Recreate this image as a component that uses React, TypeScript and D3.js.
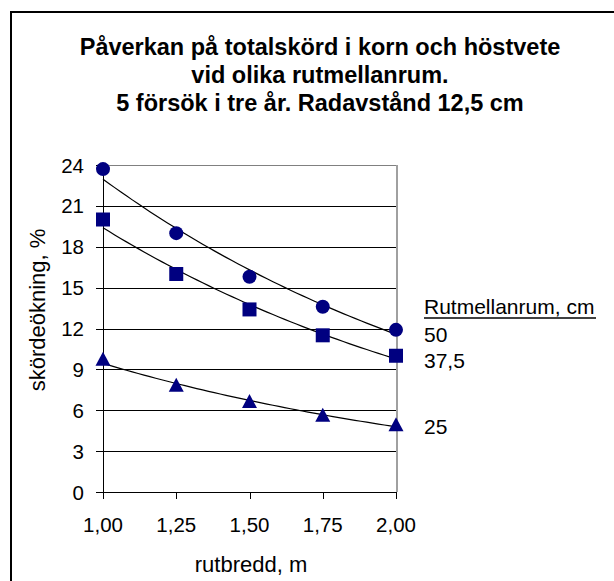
import * as d3 from "d3";

// rutbredd, m
const widths = [1.0, 1.25, 1.5, 1.75, 2.0];
// skördeökning, % per rutmellanrum
const s50 = [23.7, 19.0, 15.8, 13.6, 11.9];
const s375 = [20.0, 16.0, 13.4, 11.5, 10.0];
const s25 = [9.7, 7.8, 6.6, 5.6, 4.9];
const seriesNames = ["50", "37,5", "25"];
const yTicks = [0, 3, 6, 9, 12, 15, 18, 21, 24];
const titleLines = [
  "Påverkan på totalskörd i korn och höstvete",
  "vid olika rutmellanrum.",
  "5 försök i tre år. Radavstånd 12,5 cm",
];

const W = 614;
const H = 581;
const font = "'Liberation Sans', Arial, sans-serif";
const navy = "#000080";

// exponential trendline like Excel: y = a * exp(b x)
function expFit(xs: number[], ys: number[]) {
  const ly = ys.map(Math.log);
  const mx = d3.mean(xs)!;
  const my = d3.mean(ly)!;
  let num = 0, den = 0;
  xs.forEach((x, i) => {
    num += (x - mx) * (ly[i] - my);
    den += (x - mx) * (x - mx);
  });
  const b = num / den;
  const a = Math.exp(my - b * mx);
  return (x: number) => a * Math.exp(b * x);
}

function Marker({ kind, x, y }: { kind: string; x: number; y: number }) {
  if (kind === "circle") return <circle cx={x} cy={y} r={7} fill={navy} />;
  if (kind === "square")
    return <rect x={x - 7} y={y - 7} width={14} height={14} fill={navy} />;
  return (
    <path
      d={`M${x},${y - 8}L${x + 7.5},${y + 6}L${x - 7.5},${y + 6}Z`}
      fill={navy}
    />
  );
}

export default function App() {
  const x = d3.scaleLinear().domain([1, 2]).range([103, 396]);
  const y = d3.scaleLinear().domain([0, 24]).range([492, 165]);

  // label offsets relative to the last point (data labels at the end)
  const series = [
    { name: seriesNames[0], values: s50, kind: "circle", dy: 12 },
    { name: seriesNames[1], values: s375, kind: "square", dy: 12 },
    { name: seriesNames[2], values: s25, kind: "triangle", dy: 9 },
  ];

  const samples = d3.range(0, 51).map((i) => 1 + i / 50);
  const line = d3
    .line<[number, number]>()
    .x((d) => x(d[0]))
    .y((d) => y(d[1]));

  const gy = (t: number) => Math.round(y(t)) + 0.5;

  return (
    <svg
      width={W}
      height={H}
      style={{ position: "fixed", left: 0, top: 0, display: "block", background: "#fff" }}
      fontFamily={font}
    >
      <rect x={11} y={12} width={700} height={700} fill="#fff" stroke="#000" strokeWidth={2} />

      <g fontSize={23.5} fontWeight="bold" textAnchor="middle">
        {titleLines.map((t, i) => (
          <text key={i} x={320} y={55 + i * 28}>
            {t}
          </text>
        ))}
      </g>

      {/* gridlines */}
      <g shapeRendering="crispEdges">
        {yTicks.slice(1).map((t) => (
          <line
            key={t}
            x1={x(1)}
            x2={x(2)}
            y1={gy(t)}
            y2={gy(t)}
            stroke={t === 24 ? "#808080" : "#000"}
          />
        ))}
        <line x1={x(2) + 0.5} x2={x(2) + 0.5} y1={y(24)} y2={y(0)} stroke="#a0a0a0" strokeWidth={2} />
        {/* axes */}
        <line x1={x(1) + 0.5} x2={x(1) + 0.5} y1={y(24)} y2={y(0)} stroke="#000" strokeWidth={1.5} />
        <line x1={x(1) - 7} x2={x(2)} y1={gy(0)} y2={gy(0)} stroke="#000" strokeWidth={1.5} />
        {yTicks.map((t) => (
          <line key={t} x1={x(1) - 7} x2={x(1)} y1={gy(t)} y2={gy(t)} stroke="#000" />
        ))}
        {widths.map((w) => (
          <line key={w} x1={Math.round(x(w)) + 0.5} x2={Math.round(x(w)) + 0.5} y1={y(0)} y2={y(0) + 7} stroke="#000" />
        ))}
      </g>

      <g fontSize={20.5} textAnchor="end">
        {yTicks.map((t) => (
          <text key={t} x={84} y={y(t) + 7.5}>
            {t}
          </text>
        ))}
      </g>
      <g fontSize={20.5} textAnchor="middle">
        {widths.map((w) => (
          <text key={w} x={x(w)} y={532}>
            {d3.format(".2f")(w).replace(".", ",")}
          </text>
        ))}
      </g>
      <text x={251} y={572} fontSize={22} textAnchor="middle">
        rutbredd, m
      </text>
      <text
        transform="translate(45,310) rotate(-90)"
        fontSize={22}
        textAnchor="middle"
      >
        skördeökning, %
      </text>

      {/* trendlines */}
      {series.map((s) => {
        const f = expFit(widths, s.values);
        return (
          <path
            key={s.name}
            d={line(samples.map((v) => [v, f(v)]))!}
            fill="none"
            stroke="#000"
            strokeWidth={1.2}
          />
        );
      })}

      {/* markers */}
      {series.map((s) =>
        s.values.map((v, i) => (
          <Marker key={s.name + i} kind={s.kind} x={x(widths[i])} y={y(v)} />
        ))
      )}

      {/* labels */}
      <text x={424} y={314} fontSize={21}>
        Rutmellanrum, cm
      </text>
      <line x1={424} x2={596} y1={318} y2={318} stroke="#000" strokeWidth={1.6} />
      {series.map((s) => (
        <text key={s.name} x={424} y={y(s.values[s.values.length - 1]) + s.dy} fontSize={21}>
          {s.name}
        </text>
      ))}
    </svg>
  );
}
